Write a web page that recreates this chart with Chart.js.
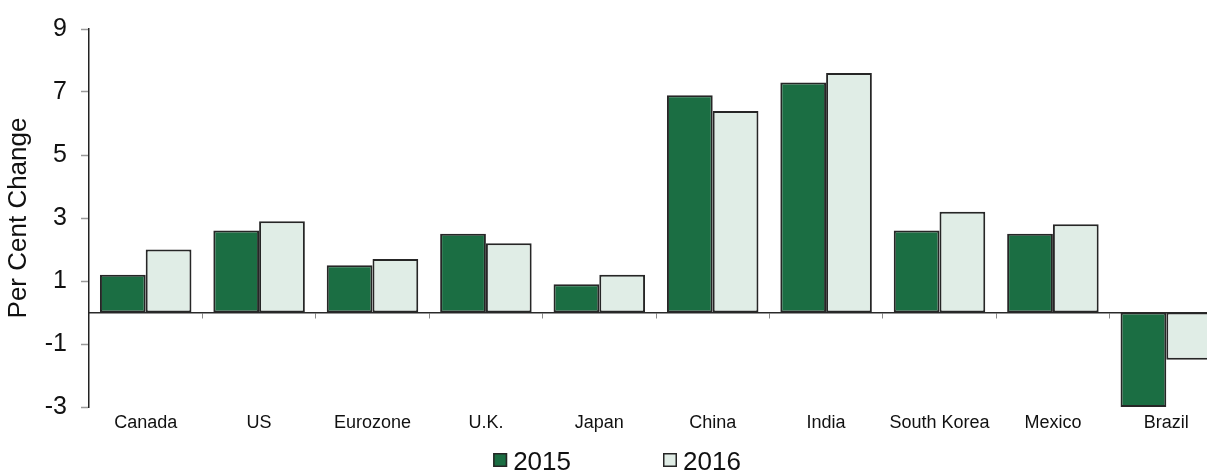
<!DOCTYPE html>
<html>
<head>
<meta charset="utf-8">
<style>
  html, body { margin: 0; padding: 0; background: #ffffff; overflow: hidden; }
  #wrap { width: 1207px; height: 470px; overflow: hidden; }
  canvas { display: block; }
</style>
<script src="https://cdn.jsdelivr.net/npm/chart.js@4/dist/chart.umd.min.js"></script>
</head>
<body>
<div id="wrap"><canvas id="growth" width="1240" height="470"></canvas></div>
<script>
// Real GDP growth by economy, per cent change
const economies = ['Canada', 'US', 'Eurozone', 'U.K.', 'Japan', 'China', 'India', 'South Korea', 'Mexico', 'Brazil'];
const growth2015 = [1.2, 2.6, 1.5, 2.5, 0.9, 6.9, 7.3, 2.6, 2.5, -3.0];
const growth2016 = [2.0, 2.9, 1.7, 2.2, 1.2, 6.4, 7.6, 3.2, 2.8, -1.5];
const seriesNames = ['2015', '2016'];
const yTickValues = [-3, -1, 1, 3, 5, 7, 9];

const FONT = "'Liberation Sans', Arial, Helvetica, sans-serif";
const DARK_GREEN = '#1b6e43';
const PALE_GREEN = '#e0ede6';
const OUTLINE = '#262626';

Chart.defaults.font.family = FONT;
Chart.defaults.color = '#111111';

// Legend drawn along the bottom edge, centred on the canvas
const bottomLegend = {
  id: 'bottomLegend',
  afterDraw(chart) {
    const ctx = chart.ctx;
    const size = 26, box = 14, gap = 6, spacing = 92;
    ctx.save();
    ctx.font = size + 'px ' + FONT;
    ctx.textBaseline = 'alphabetic';
    ctx.textAlign = 'left';
    const items = chart.data.datasets.map(ds => ({
      text: ds.label, fill: ds.backgroundColor, w: box + gap + ctx.measureText(ds.label).width
    }));
    const total = items.reduce((s, it) => s + it.w, 0) + spacing * (items.length - 1);
    let x = chart.width / 2 - 3 - total / 2;
    const baseline = chart.height - 0.5;
    items.forEach(it => {
      ctx.fillStyle = it.fill;
      ctx.fillRect(x, baseline - 16.5, box, box);
      ctx.strokeStyle = OUTLINE;
      ctx.lineWidth = 1.5;
      ctx.strokeRect(x + 0.75, baseline - 15.75, box - 1.5, box - 1.5);
      ctx.fillStyle = '#111111';
      ctx.fillText(it.text, x + box + gap, baseline);
      x += it.w + spacing;
    });
    ctx.restore();
  }
};

new Chart(document.getElementById('growth'), {
  type: 'bar',
  data: {
    labels: economies,
    datasets: [
      {
        label: seriesNames[0], data: growth2015,
        backgroundColor: DARK_GREEN, borderColor: OUTLINE, borderWidth: 2, borderSkipped: false
      },
      {
        label: seriesNames[1], data: growth2016,
        backgroundColor: PALE_GREEN, borderColor: OUTLINE, borderWidth: 2, borderSkipped: false
      }
    ]
  },
  options: {
    responsive: false,
    devicePixelRatio: 1,
    animation: false,
    categoryPercentage: 0.807,
    barPercentage: 1.0,
    layout: { padding: { top: 26, bottom: 23, left: 0, right: 17 } },
    plugins: {
      legend: { display: false },
      tooltip: { enabled: false },
      title: { display: false }
    },
    scales: {
      x: {
        type: 'category',
        offset: true,
        grid: { display: false },
        border: { display: false },
        ticks: { font: { size: 18 }, color: '#111111', padding: -3, maxRotation: 0, minRotation: 0, autoSkip: false },
        afterFit(scale) { scale.height = 40; }
      },
      // zero line with short category-boundary ticks hanging below it
      xZero: {
        type: 'category',
        position: { y: 0 },
        offset: true,
        grid: { display: true, drawOnChartArea: false, drawTicks: true, tickLength: 5, offset: true, tickColor: '#8a8a8a', tickWidth: 1 },
        border: { display: true, color: '#2a2a2a', width: 1.5 },
        ticks: { display: false }
      },
      y: {
        type: 'linear',
        min: -3,
        max: 9,
        afterBuildTicks(scale) { scale.ticks = yTickValues.map(v => ({ value: v })); },
        grid: { display: true, drawOnChartArea: false, drawTicks: true, tickLength: 8, tickColor: '#9a9a9a', tickWidth: 1.5 },
        border: { display: true, color: '#222222', width: 1.5 },
        ticks: { font: { size: 25 }, color: '#111111', padding: 14 },
        title: { display: true, text: 'Per Cent Change', font: { size: 26 }, color: '#111111', padding: { top: 3, bottom: 0 } },
        afterFit(scale) { scale.width = 89; }
      }
    }
  },
  plugins: [bottomLegend]
});
</script>
</body>
</html>
